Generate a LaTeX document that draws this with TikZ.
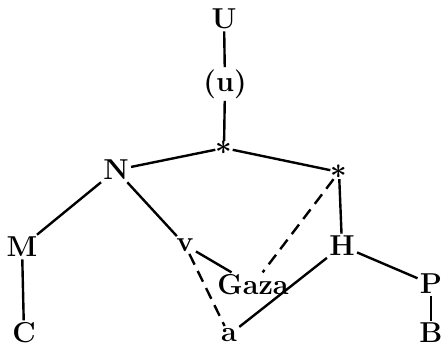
\documentclass[tikz,border=0pt]{standalone}
\usepackage{amsmath, amssymb}
\usetikzlibrary{positioning}

\begin{document}
\begin{tikzpicture}[
			x=0.5pt, y=-0.5pt,
			% stile per i nomi
			sigla/.style={font=\Large\bfseries, inner sep=1pt},
			% stile per gli asterischi
			stella/.style={font=\Large, inner sep=0pt},
			% stile per le linee
			linea/.style={line width=1.2pt},
			tratto/.style={line width=1.2pt, dash pattern=on 6pt off 3.5pt}
			]
			\useasboundingbox (0,0) rectangle (442,346);
			
			% --- NODI ---
			\node [sigla] (U) at (224,19) {U};
			\node [sigla] (u) at (225,84) {(u)};
			\node [stella] (s1) at (224,148) {$\boldsymbol{\ast}$};
			\node [sigla] (N) at (116,170) {N};
			\node [stella] (s2) at (339,172) {$\boldsymbol{\ast}$};
			\node [sigla] (M) at (22,247) {M};
			\node [sigla] (v) at (185,245) {v};
			\node [sigla] (H) at (342,246) {H};
			\node [sigla] (Gaza) at (253,285) {Gaza};
			\node [sigla] (P) at (431,284) {P};
			\node [sigla] (C) at (24,333) {C};
			\node [sigla] (a) at (229,335) {a};
			\node [sigla] (B) at (431,333) {B};
			
			% --- LINEE ---
			\draw [linea] (U) -- (u);
			\draw [linea] (u) -- (s1);
			\draw [linea] (s1) -- (N);
			\draw [linea] (s1) -- (s2);
			\draw [linea] (N) -- (M);
			\draw [linea] (N) -- (v);
			\draw [linea] (M) -- (C);
			\draw [linea] (v) -- (Gaza);
			\draw [linea] (s2) -- (H);
			\draw [linea] (H) -- (a);
			\draw [linea] (H) -- (P);
			\draw [linea] (P) -- (B);
			
			% --- TRATTEGGIATE ---
			\draw [tratto] (v) -- (a);
			\draw [tratto] (s2) -- (Gaza);
			
		\end{tikzpicture}
\end{document}
